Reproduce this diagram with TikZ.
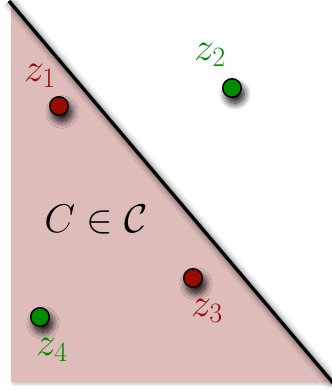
\RequirePackage{fix-cm}
\documentclass[tikz,border=0pt]{standalone}
\usepackage{amssymb}
\usetikzlibrary{shadows.blur}
\definecolor{pinkfill}{RGB}{222,188,186}
\definecolor{dotred}{RGB}{150,12,0}
\definecolor{dotgreen}{RGB}{0,140,0}
\tikzset{
  dot/.style={circle, draw=black, line width=1.5pt, minimum size=18.5pt, inner sep=0pt,
    blur shadow={shadow xshift=3pt, shadow yshift=-6pt, shadow blur radius=7pt, shadow opacity=95, shadow blur steps=12}},
  lbl/.style={inner sep=0pt, font=\fontsize{40}{46}\selectfont},
}
\begin{document}
\begin{tikzpicture}[x=1pt,y=-1pt]
\useasboundingbox (0,0) rectangle (332,391);
\coordinate (tl) at (11,3);
\coordinate (bl) at (11,382);
\coordinate (br) at (332,382);
\coordinate (a) at (9,1);
\coordinate (b) at (334,384);
% pink region
\fill[pinkfill, blur shadow={shadow xshift=2pt, shadow yshift=-2pt, shadow blur radius=3pt, shadow opacity=25}] (tl) -- (bl) -- (br) -- cycle;
% line shadow
\begin{scope}[shift={(3,4)}]
\foreach \w/\o in {16/0.05,12/0.06,9/0.08,6/0.1,4/0.12}{
  \draw[line width=\w pt, black, opacity=\o] (a) -- (b);
}
\end{scope}
\draw[line width=3.2pt, black] (a) -- (b);
% dots
\node[dot, fill=dotred] (d1) at (59,106) {};
\node[dot, fill=dotgreen] (d2) at (232,88) {};
\node[dot, fill=dotred] (d3) at (193,278) {};
\node[dot, fill=dotgreen] (d4) at (40,317) {};
% labels
\node[lbl, text=dotred] (l1) at (40,76) {$z_1$};
\node[lbl, text=dotgreen] (l2) at (210,55) {$z_2$};
\node[lbl, text=dotred] (l3) at (207,311) {$z_3$};
\node[lbl, text=dotgreen] (l4) at (52,350) {$z_4$};
\node[lbl] (cc) at (96,220) {$C\in\mathcal{C}$};
\end{tikzpicture}
\end{document}
